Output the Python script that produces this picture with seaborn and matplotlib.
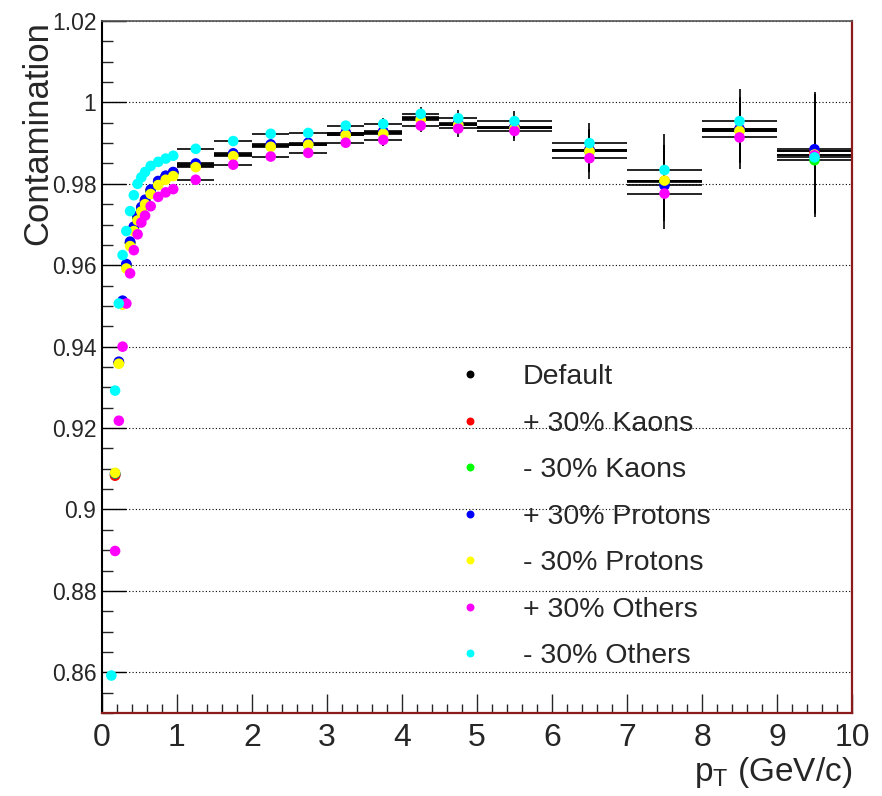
import numpy as np
import pandas as pd
import matplotlib
matplotlib.use("Agg")
import matplotlib.pyplot as plt
import seaborn as sns
from matplotlib.ticker import MultipleLocator

# pT binning (GeV/c)
bin_edges = [0.10, 0.15, 0.20, 0.25, 0.30, 0.35, 0.40, 0.45, 0.50, 0.55, 0.60,
             0.70, 0.80, 0.90, 1.00, 1.50, 2.00, 2.50, 3.00, 3.50, 4.00, 4.50,
             5.00, 6.00, 7.00, 8.00, 9.00, 10.00]

series_names = ["Default", "+ 30% Kaons", "- 30% Kaons", "+ 30% Protons",
                "- 30% Protons", "+ 30% Others", "- 30% Others"]
series_colors = ["#000000", "#ff0000", "#00ff00", "#0000ff",
                 "#ffff00", "#ff00ff", "#00ffff"]

nan = np.nan
default_vals = [nan, 0.9085, 0.9360, 0.9510, 0.9600, 0.9655, 0.9692, 0.9718, 0.9740, 0.9758,
                0.9783, 0.9805, 0.9818, 0.9827, 0.9847, 0.9872, 0.9894, 0.9898, 0.9923,
                0.9926, 0.9961, 0.9947, 0.9938, 0.9882, 0.9806, 0.9933, 0.9880]
kaons_up = [nan, 0.9083, 0.9361, 0.9511, 0.9601, 0.9656, 0.9693, 0.9719, 0.9741, 0.9759,
            0.9784, 0.9806, 0.9819, 0.9828, 0.9848, 0.9873, 0.9895, 0.9899, 0.9924,
            0.9927, 0.9962, 0.9948, 0.9939, 0.9883, 0.9807, 0.9934, 0.9881]
kaons_down = [nan, 0.9088, 0.9360, 0.9509, 0.9599, 0.9654, 0.9690, 0.9716, 0.9738, 0.9756,
              0.9781, 0.9803, 0.9816, 0.9825, 0.9845, 0.9870, 0.9892, 0.9896, 0.9921,
              0.9924, 0.9959, 0.9945, 0.9936, 0.9880, 0.9805, 0.9931, 0.9858]
protons_up = [nan, 0.9089, 0.9363, 0.9513, 0.9603, 0.9658, 0.9695, 0.9721, 0.9743, 0.9761,
              0.9786, 0.9807, 0.9820, 0.9829, 0.9850, 0.9875, 0.9897, 0.9901, 0.9926,
              0.9929, 0.9963, 0.9949, 0.9940, 0.9884, 0.9796, 0.9935, 0.9885]
protons_down = [nan, 0.9090, 0.9358, 0.9503, 0.9592, 0.9647, 0.9684, 0.9710, 0.9732, 0.9750,
                0.9775, 0.9797, 0.9810, 0.9819, 0.9841, 0.9868, 0.9891, 0.9896, 0.9920,
                0.9923, 0.9958, 0.9945, 0.9936, 0.9880, 0.9808, 0.9930, 0.9872]
others_up = [nan, 0.8898, 0.9218, 0.9400, 0.9506, 0.9580, 0.9637, 0.9676, 0.9705, 0.9722,
             0.9745, 0.9768, 0.9779, 0.9787, 0.9810, 0.9847, 0.9867, 0.9876, 0.9901,
             0.9908, 0.9943, 0.9936, 0.9930, 0.9863, 0.9776, 0.9914, 0.9870]
others_down = [0.8592, 0.9292, 0.9506, 0.9625, 0.9684, 0.9733, 0.9772, 0.9800, 0.9816, 0.9829,
               0.9844, 0.9854, 0.9862, 0.9869, 0.9886, 0.9905, 0.9923, 0.9925, 0.9943,
               0.9947, 0.9972, 0.9961, 0.9954, 0.9900, 0.9834, 0.9954, 0.9865]

# statistical uncertainty per bin
stat_err = [0.0003, 0.0003, 0.0003, 0.0003, 0.0003, 0.0003, 0.0003, 0.0003, 0.0003, 0.0003,
            0.0003, 0.0003, 0.0003, 0.0003, 0.0004, 0.0005, 0.0007, 0.0009, 0.0011,
            0.0014, 0.0016, 0.0020, 0.0024, 0.0050, 0.0088, 0.0078, 0.0140]

y_ticks = [0.86, 0.88, 0.90, 0.92, 0.94, 0.96, 0.98, 1.00, 1.02]
y_tick_labels = ["0.86", "0.88", "0.9", "0.92", "0.94", "0.96", "0.98", "1", "1.02"]
x_ticks = list(range(0, 11))

all_values = [default_vals, kaons_up, kaons_down, protons_up,
              protons_down, others_up, others_down]

edges = np.array(bin_edges)
centers = 0.5 * (edges[:-1] + edges[1:])
half_w = 0.5 * (edges[1:] - edges[:-1])

frames = []
for name, vals in zip(series_names, all_values):
    frames.append(pd.DataFrame({"pt": centers, "hw": half_w, "value": vals,
                                "err": stat_err, "series": name}))
df = pd.concat(frames, ignore_index=True).dropna(subset=["value"])

sns.set_style("ticks")
plt.rcParams["font.family"] = ["Liberation Sans", "DejaVu Sans"]
plt.rcParams["mathtext.fontset"] = "custom"
plt.rcParams["mathtext.rm"] = "Liberation Sans"
plt.rcParams["mathtext.it"] = "Liberation Sans"

fig = plt.figure(figsize=(8.82, 7.96), dpi=100)
ax = fig.add_axes([0.1156, 0.1043, 0.8504, 0.8693])

# black error crosses for every variation
for name in series_names:
    sub = df[df["series"] == name]
    ax.errorbar(sub["pt"], sub["value"], xerr=sub["hw"], yerr=sub["err"],
                fmt="none", ecolor="black", elinewidth=1.2, capsize=0, zorder=2)

sns.scatterplot(data=df, x="pt", y="value", hue="series", hue_order=series_names,
                palette=series_colors, s=58, linewidth=0, ax=ax, zorder=3, legend=True)

ax.set_xlim(0, 10)
ax.set_ylim(0.85, 1.02)
ax.set_yticks(y_ticks)
ax.set_yticklabels(y_tick_labels)
ax.set_xticks(x_ticks)
ax.set_xticklabels([str(t) for t in x_ticks])
ax.yaxis.set_minor_locator(MultipleLocator(0.005))
ax.xaxis.set_minor_locator(MultipleLocator(0.2))

ax.tick_params(axis="y", which="major", direction="in", length=17, width=1,
               labelsize=16.5, pad=4, right=False, color="black")
ax.tick_params(axis="y", which="minor", direction="in", length=8, width=1, right=False)
ax.tick_params(axis="x", which="major", direction="in", length=14, width=1,
               labelsize=23, pad=7, top=False)
ax.tick_params(axis="x", which="minor", direction="in", length=6.5, width=1, top=False)

ax.yaxis.grid(True, which="major", linestyle=(0, (1, 2)), color="black", lw=0.8)
ax.xaxis.grid(False)

ax.spines["left"].set_color("black")
ax.spines["left"].set_linewidth(1.5)
for side in ["bottom", "right"]:
    ax.spines[side].set_color("#8b1a1a")
    ax.spines[side].set_linewidth(1.6)
ax.spines["top"].set_color("#555555")
ax.spines["top"].set_linewidth(1.2)
for side in ["top", "right"]:
    ax.spines[side].set_visible(True)

ax.set_ylabel("Contamination", fontsize=25, loc="top", labelpad=-2)
ax.set_xlabel(r"p$_{\mathregular{T}}$ (GeV/c)", fontsize=24, loc="right", labelpad=2)

handles, labels = ax.get_legend_handles_labels()
ax.legend(handles, labels, loc="upper left", bbox_to_anchor=(0.472, 0.504),
          frameon=False, fontsize=20.5, markerscale=0.75, handlelength=1.0,
          handletextpad=1.35, labelspacing=0.72, borderpad=0, borderaxespad=0)

fig.savefig("out.png", dpi=100)
